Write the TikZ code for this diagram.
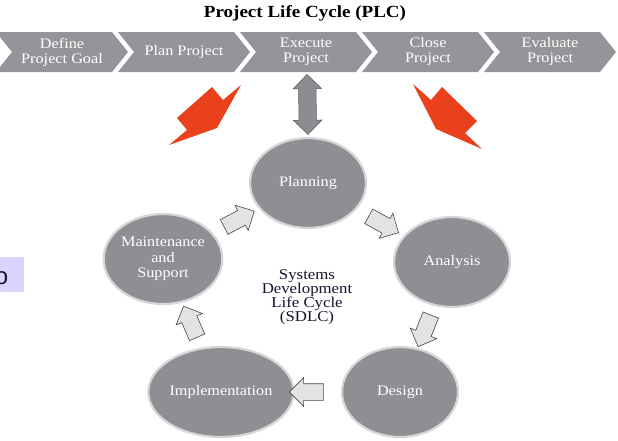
\documentclass[tikz,border=0pt]{standalone}
\usepackage{fontspec}
\setmainfont{Liberation Serif}[FakeStretch=1.12]
\newfontfamily\sansf{Liberation Sans}
\usetikzlibrary{shapes.geometric,shapes.arrows,calc}
\definecolor{chev}{RGB}{147,149,152}
\definecolor{circ}{RGB}{142,143,147}
\definecolor{rim}{RGB}{214,214,216}
\definecolor{redar}{RGB}{233,65,28}
\definecolor{lav}{RGB}{220,212,255}
\definecolor{navy}{RGB}{20,20,45}
\definecolor{dblfill}{RGB}{140,141,144}
\begin{document}
\begin{tikzpicture}[x=1pt,y=-1pt,
  chevtext/.style={text=white, font=\fontsize{14.5}{15}\selectfont, align=center, inner sep=0pt},
  cyc/.style={ellipse, fill=circ, draw=rim, line width=2.2pt, minimum width=116pt, minimum height=90pt, inner sep=0pt, text=white, font=\fontsize{14.5}{15.5}\selectfont, align=center},
  blk/.style={single arrow, draw=gray!55!black, line width=0.6pt, fill=gray!22, minimum height=34pt, inner xsep=0pt, inner ysep=8pt, single arrow head extend=6pt, sloped, allow upside down},
  dbl/.style={double arrow, draw=gray!70!black, line width=0.5pt, fill=dblfill, minimum height=60pt, inner xsep=0pt, inner ysep=8.5pt, double arrow head extend=5.5pt, sloped, allow upside down}
]
\useasboundingbox (0,0) rectangle (618,440);

\node[font=\bfseries\fontsize{17}{20}\selectfont] (title) at (305,13) {Project Life Cycle (PLC)};

\foreach \i/\t in {0/{Define\\Project Goal},1/{Plan Project},2/{Execute\\Project},3/{Close\\Project},4/{Evaluate\\Project}} {
  \pgfmathsetmacro\L{122*\i-4}
  \fill[chev] (\L,32) -- (\L+116,32) -- (\L+132,52) -- (\L+116,72) -- (\L,72) -- (\L+16,52) -- cycle;
  \node[chevtext] (c\i) at (\L+66,52) {\t};
}

\fill[redar] (241,85) -- (223,100) -- (212,87) -- (177,118) -- (187,130) -- (169,145) -- (217,128) -- cycle;
\fill[redar] (413,84) -- (431,100) -- (442,87) -- (477,121) -- (465,133) -- (482,149) -- (436,129) -- cycle;

\node[cyc] (plan) at (308,183) {Planning};
\node[cyc] (ana) at (452,262) {Analysis};
\node[cyc] (des) at (400,392) {Design};
\node[cyc] (imp) at (221,392) {Implementation};
\node[cyc] (mnt) at (163,259) {Maintenance\\and\\Support};

\node[align=center, font=\fontsize{15}{14}\selectfont, text=navy] (sdlc) at (307,297) {Systems\\Development\\Life Cycle\\(SDLC)};

\coordinate (c2b) at (307,72);
\path (c2b) -- node[dbl] (dblar) {} (plan.north);

\path (mnt.center) -- node[blk] (a1) {} (plan.center);
\path (plan.center) -- node[blk] (a2) {} (ana.center);
\path (ana.center) -- node[blk] (a3) {} (des.center);
\path (des.center) -- node[blk] (a4) {} (imp.center);
\path (imp.center) -- node[blk] (a5) {} (mnt.center);

\node[fill=lav, minimum width=24pt, minimum height=35pt, inner sep=0pt, anchor=north west] (pbox) at (0,257) {};
\node[font=\sansf\fontsize{24}{24}\selectfont, text=navy, inner sep=0pt] (po) at (1.5,278.5) {o};
\end{tikzpicture}
\end{document}
